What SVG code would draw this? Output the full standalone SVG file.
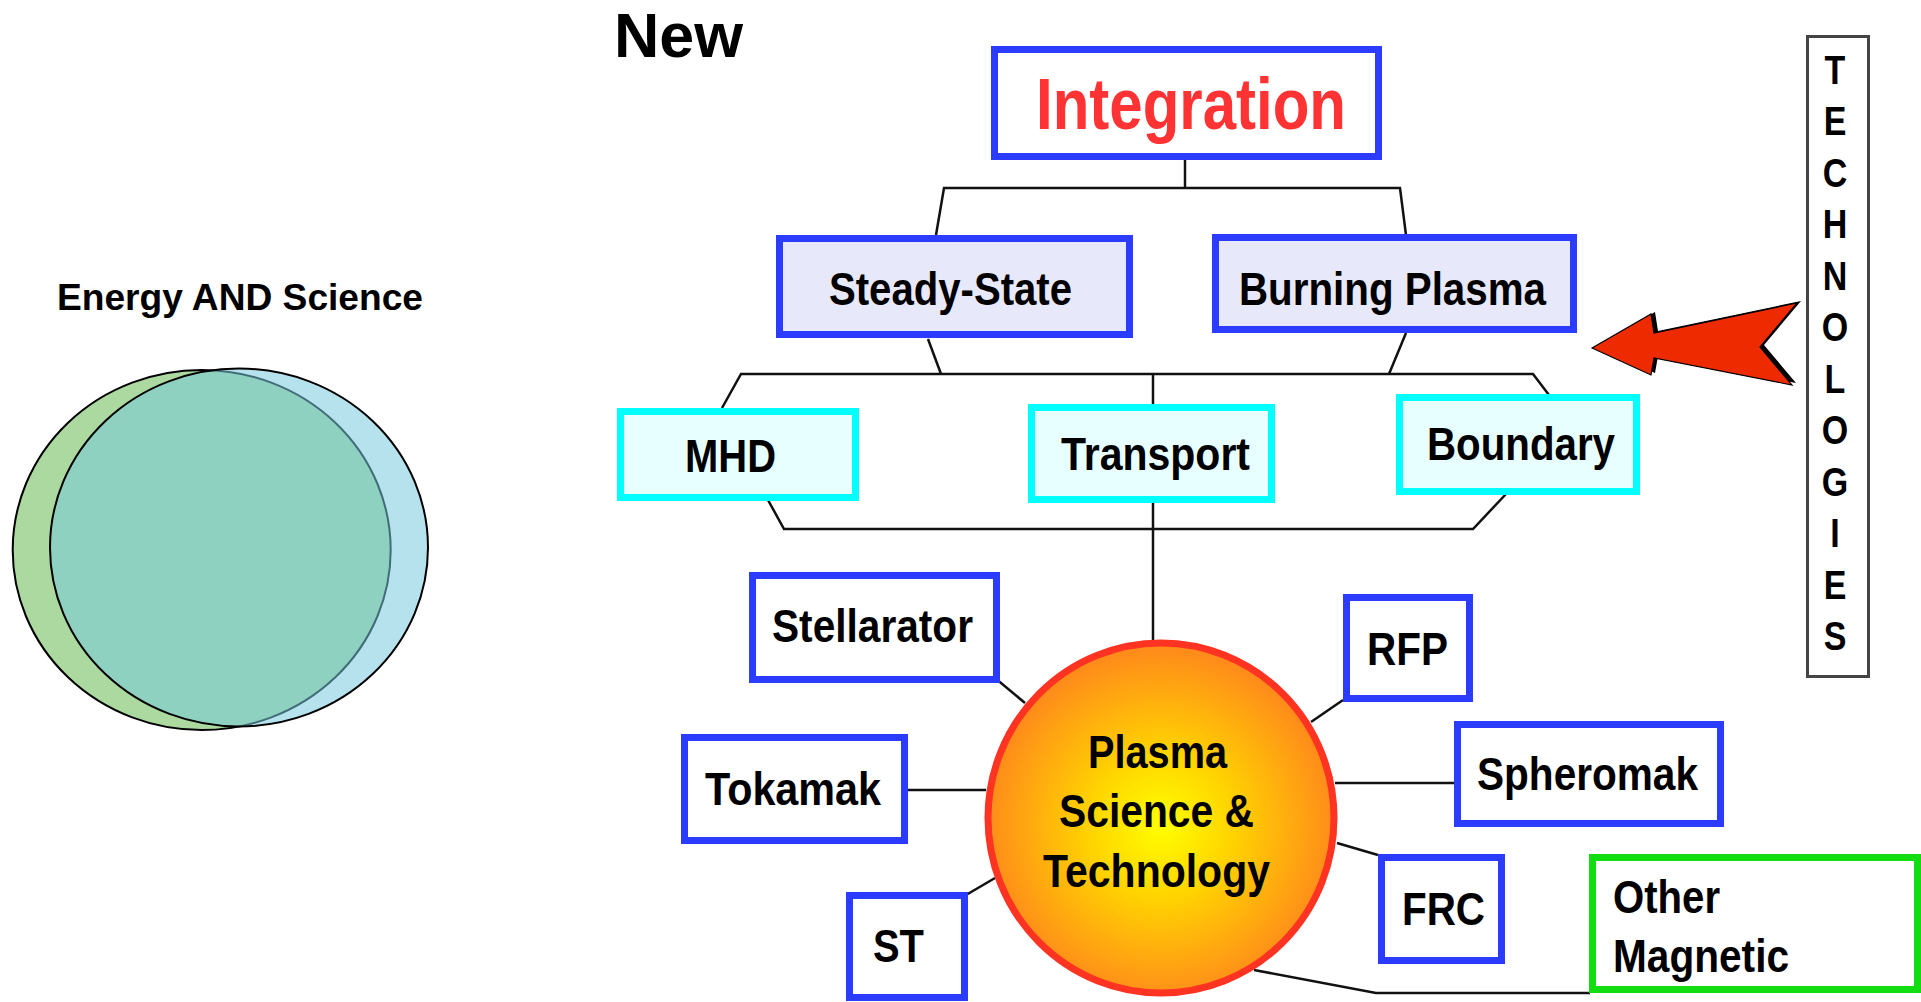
<svg xmlns="http://www.w3.org/2000/svg" width="1921" height="1002" viewBox="0 0 1921 1002">
<style>
  .t{font-family:"Liberation Sans",Arial,sans-serif;font-weight:bold;fill:#000;}
  .lbl{font-size:47px;}
  .blue{fill:#fff;stroke:#2b3bff;stroke-width:7;}
  .lav{fill:#e8e8fb;stroke:#2b3bff;stroke-width:7;}
  .cyan{fill:#e8ffff;stroke:#00ffff;stroke-width:7;}
  .green{fill:#fff;stroke:#11dd11;stroke-width:7;}
  .conn{fill:none;stroke:#111;stroke-width:2.5;stroke-linejoin:miter;}
  .tech{font-size:40px;}
</style>
<defs>
  <radialGradient id="sun" cx="0.5" cy="0.52" r="0.5">
    <stop offset="0" stop-color="#ffff00"/>
    <stop offset="0.4" stop-color="#ffd500"/>
    <stop offset="1" stop-color="#ff8c1a"/>
  </radialGradient>
</defs>
<rect x="0" y="0" width="1921" height="1002" fill="#fff"/>

<!-- Left panel: Venn -->
<g id="venn">
  <text class="t" x="57" y="310" font-size="37" textLength="366" lengthAdjust="spacingAndGlyphs">Energy AND Science</text>
  <ellipse cx="201.7" cy="550" rx="189" ry="180" fill="#acd9a0" stroke="#000" stroke-width="2"/>
  <ellipse cx="239" cy="547.5" rx="189" ry="179" fill="rgb(118,201,220)" fill-opacity="0.54" stroke="#000" stroke-width="2"/>
</g>

<text id="title-new" class="t" x="614" y="57" font-size="63" textLength="129" lengthAdjust="spacingAndGlyphs">New</text>

<!-- Connectors -->
<g id="connectors" class="conn">
  <path d="M1185,160 V188"/>
  <path d="M936,235 L944,188 H1400 L1406,235"/>
  <path d="M928,339 L941,374"/>
  <path d="M1406,333 L1389,374"/>
  <path d="M722,408 L741,374 H1533 L1549,395"/>
  <path d="M1153,374 V405"/>
  <path d="M768,500 L784,529 H1473 L1506,494"/>
  <path d="M1153,503 V642"/>
  <path d="M995,678 L1025,703"/>
  <path d="M908,790 H986"/>
  <path d="M966,895 L995,878"/>
  <path d="M1343,700 L1311,722"/>
  <path d="M1335,783 H1454"/>
  <path d="M1337,843 L1378,855"/>
  <path d="M1254,970 L1376,993 H1590"/>
</g>

<g id="integration">
  <rect class="blue" x="994.5" y="49.5" width="384" height="107"/>
  <text class="t" x="1036" y="129" font-size="73" style="fill:#ff3333" textLength="310" lengthAdjust="spacingAndGlyphs">Integration</text>
</g>

<g id="steady-state">
  <rect class="lav" x="779.5" y="238.5" width="350" height="96"/>
  <text class="t lbl" x="829" y="305" textLength="243" lengthAdjust="spacingAndGlyphs">Steady-State</text>
</g>

<g id="burning-plasma">
  <rect class="lav" x="1215.5" y="237.5" width="358" height="92"/>
  <text class="t lbl" x="1239" y="305" textLength="307" lengthAdjust="spacingAndGlyphs">Burning Plasma</text>
</g>

<g id="mhd">
  <rect class="cyan" x="620.5" y="411.5" width="235" height="86"/>
  <text class="t lbl" x="685" y="472" textLength="91" lengthAdjust="spacingAndGlyphs">MHD</text>
</g>

<g id="transport">
  <rect class="cyan" x="1031.5" y="407.5" width="240" height="92"/>
  <text class="t lbl" x="1061" y="470" textLength="189" lengthAdjust="spacingAndGlyphs">Transport</text>
</g>

<g id="boundary">
  <rect class="cyan" x="1399.5" y="397.5" width="237" height="94"/>
  <text class="t lbl" x="1427" y="460" textLength="188" lengthAdjust="spacingAndGlyphs">Boundary</text>
</g>

<g id="stellarator">
  <rect class="blue" x="752.5" y="575.5" width="244" height="104"/>
  <text class="t lbl" x="772" y="642" textLength="201" lengthAdjust="spacingAndGlyphs">Stellarator</text>
</g>

<g id="rfp">
  <rect class="blue" x="1346.5" y="597.5" width="123" height="101"/>
  <text class="t lbl" x="1367" y="665" textLength="81" lengthAdjust="spacingAndGlyphs">RFP</text>
</g>

<g id="spheromak">
  <rect class="blue" x="1457.5" y="724.5" width="263" height="99"/>
  <text class="t lbl" x="1477" y="790" textLength="221" lengthAdjust="spacingAndGlyphs">Spheromak</text>
</g>

<g id="tokamak">
  <rect class="blue" x="684.5" y="737.5" width="220" height="103"/>
  <text class="t lbl" x="705" y="805" textLength="176" lengthAdjust="spacingAndGlyphs">Tokamak</text>
</g>

<g id="st">
  <rect class="blue" x="849.5" y="895.5" width="115" height="102"/>
  <text class="t lbl" x="873" y="962" textLength="51" lengthAdjust="spacingAndGlyphs">ST</text>
</g>

<g id="frc">
  <rect class="blue" x="1381.5" y="857.5" width="120" height="103"/>
  <text class="t lbl" x="1402" y="925" textLength="83" lengthAdjust="spacingAndGlyphs">FRC</text>
</g>

<g id="other-magnetic">
  <rect class="green" x="1592.5" y="857.5" width="325" height="132"/>
  <text class="t lbl" x="1613" y="913" textLength="107" lengthAdjust="spacingAndGlyphs">Other</text>
  <text class="t lbl" x="1613" y="972" textLength="176" lengthAdjust="spacingAndGlyphs">Magnetic</text>
</g>

<g id="plasma-core">
  <ellipse cx="1161" cy="818" rx="173" ry="175" fill="url(#sun)" stroke="#ff3322" stroke-width="7"/>
  <text class="t lbl" x="1088" y="768" textLength="139" lengthAdjust="spacingAndGlyphs">Plasma</text>
  <text class="t lbl" x="1059" y="827" textLength="195" lengthAdjust="spacingAndGlyphs">Science &amp;</text>
  <text class="t lbl" x="1043" y="887" textLength="227" lengthAdjust="spacingAndGlyphs">Technology</text>
</g>

<g id="technologies">
  <rect x="1807.5" y="36.5" width="61" height="640" fill="#fff" stroke="#444" stroke-width="3"/>
  <g transform="translate(1835,0) scale(0.85,1)" text-anchor="middle">
    <text class="t tech" x="0" y="84">T</text>
    <text class="t tech" x="0" y="135.5">E</text>
    <text class="t tech" x="0" y="187">C</text>
    <text class="t tech" x="0" y="238.5">H</text>
    <text class="t tech" x="0" y="290">N</text>
    <text class="t tech" x="0" y="341.5">O</text>
    <text class="t tech" x="0" y="393">L</text>
    <text class="t tech" x="0" y="444.5">O</text>
    <text class="t tech" x="0" y="496">G</text>
    <text class="t tech" x="0" y="547.5">I</text>
    <text class="t tech" x="0" y="599">E</text>
    <text class="t tech" x="0" y="650">S</text>
  </g>
</g>

<g id="tech-arrow">
  <polygon points="1592,348 1651,314 1654,333 1797,303 1760,347 1792,385 1654,358 1651,375" fill="#000" transform="translate(4,-2)"/>
  <polygon points="1592,348 1651,314 1654,333 1797,303 1760,347 1792,385 1654,358 1651,375" fill="#ee2a00" stroke="#000" stroke-width="1.2" stroke-linejoin="miter"/>
</g>
</svg>
